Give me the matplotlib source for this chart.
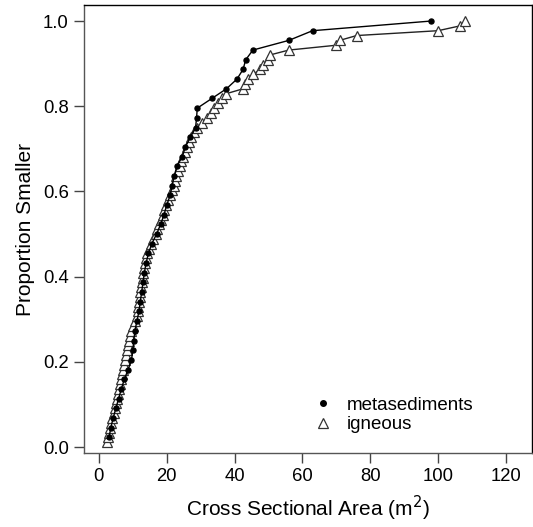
import numpy as np
import matplotlib
matplotlib.use("Agg")
import matplotlib.pyplot as plt
from matplotlib.lines import Line2D

plt.rcParams['font.family'] = ['Liberation Sans', 'DejaVu Sans']

# Cross sectional areas (m^2), sorted
metasediments = [3.0, 3.5, 4.2, 5.0, 5.8, 6.6, 7.5, 8.6, 9.6, 10.0,
                 10.3, 10.6, 11.2, 11.8, 12.2, 12.6, 13.0, 13.4, 13.9, 14.6,
                 15.6, 17.0, 18.2, 19.2, 20.0, 21.0, 21.6, 22.2, 23.0, 24.6,
                 25.5, 27.0, 28.5, 28.8, 29.0, 33.3, 37.6, 40.7, 42.5, 43.3,
                 45.4, 56.0, 63.0, 98.0]

igneous = [2.5, 2.8, 3.0, 3.3, 3.6, 3.9, 4.3, 4.7, 5.0, 5.3,
           5.6, 5.9, 6.2, 6.5, 6.8, 7.0, 7.3, 7.6, 7.9, 8.2,
           8.5, 8.8, 9.1, 9.5, 10.0, 10.6, 11.1, 11.4, 11.6, 11.8,
           12.0, 12.2, 12.4, 12.6, 12.9, 13.1, 13.3, 13.6, 13.9, 14.2,
           14.7, 15.4, 16.0, 16.7, 17.2, 17.7, 18.3, 18.8, 19.3, 19.9,
           20.5, 21.1, 21.6, 22.0, 22.4, 22.8, 23.3, 23.8, 24.3, 24.9,
           25.4, 26.0, 26.6, 27.2, 27.9, 28.8, 30.5, 32.0, 33.0, 34.0,
           35.2, 36.3, 37.6, 42.5, 43.2, 44.0, 45.5, 47.5, 48.5, 49.8,
           50.5, 56.0, 70.0, 71.0, 76.0, 100.0, 106.5, 108.0]

xticks = [0, 20, 40, 60, 80, 100, 120]
yticks = [0.0, 0.2, 0.4, 0.6, 0.8, 1.0]


def ecdf(vals):
    v = np.sort(np.asarray(vals, dtype=float))
    p = np.arange(1, len(v) + 1) / len(v)
    return v, p


fig = plt.figure(figsize=(5.33, 5.27), dpi=100)
ax = fig.add_axes([0.1576, 0.1404, 0.8404, 0.8501])

xi, pi = ecdf(igneous)
xm, pm = ecdf(metasediments)

ax.plot(xi, pi, color='#222222', lw=1.0, marker='^', markersize=7,
        markerfacecolor='white', markeredgecolor='#333333', markeredgewidth=0.9, zorder=2)
ax.plot(xm, pm, color='black', lw=1.0, marker='o', markersize=3.6,
        markerfacecolor='black', markeredgecolor='black', zorder=3)

ax.set_xlim(-4.4, 127.7)
ax.set_ylim(-0.014, 1.0376)
ax.set_xticks(xticks)
ax.set_xticklabels([str(t) for t in xticks])
ax.set_yticks(yticks)
ax.set_yticklabels([f"{t:.1f}" for t in yticks])
ax.tick_params(direction='out', length=7, width=1, labelsize=13.3, color='#444444', pad=4)

for s in ax.spines.values():
    s.set_linewidth(1.0)
    s.set_color('black')
ax.spines['left'].set_color('#555555')
ax.spines['bottom'].set_color('#555555')

ax.set_xlabel('Cross Sectional Area (m$^2$)', fontsize=15, labelpad=6)
ax.set_ylabel('Proportion Smaller', fontsize=15, labelpad=6)

handles = [Line2D([], [], ls='none', marker='o', markersize=4, color='black'),
           Line2D([], [], ls='none', marker='^', markersize=6.5, markerfacecolor='white',
                  markeredgecolor='#333333', markeredgewidth=0.9)]
ax.legend(handles, ['metasediments', 'igneous'], loc='lower left',
          bbox_to_anchor=(0.495, 0.027), frameon=False, fontsize=13.5,
          handlelength=1.0, handletextpad=0.8, labelspacing=0.12, borderaxespad=0)

fig.savefig('out.png', dpi=100)
